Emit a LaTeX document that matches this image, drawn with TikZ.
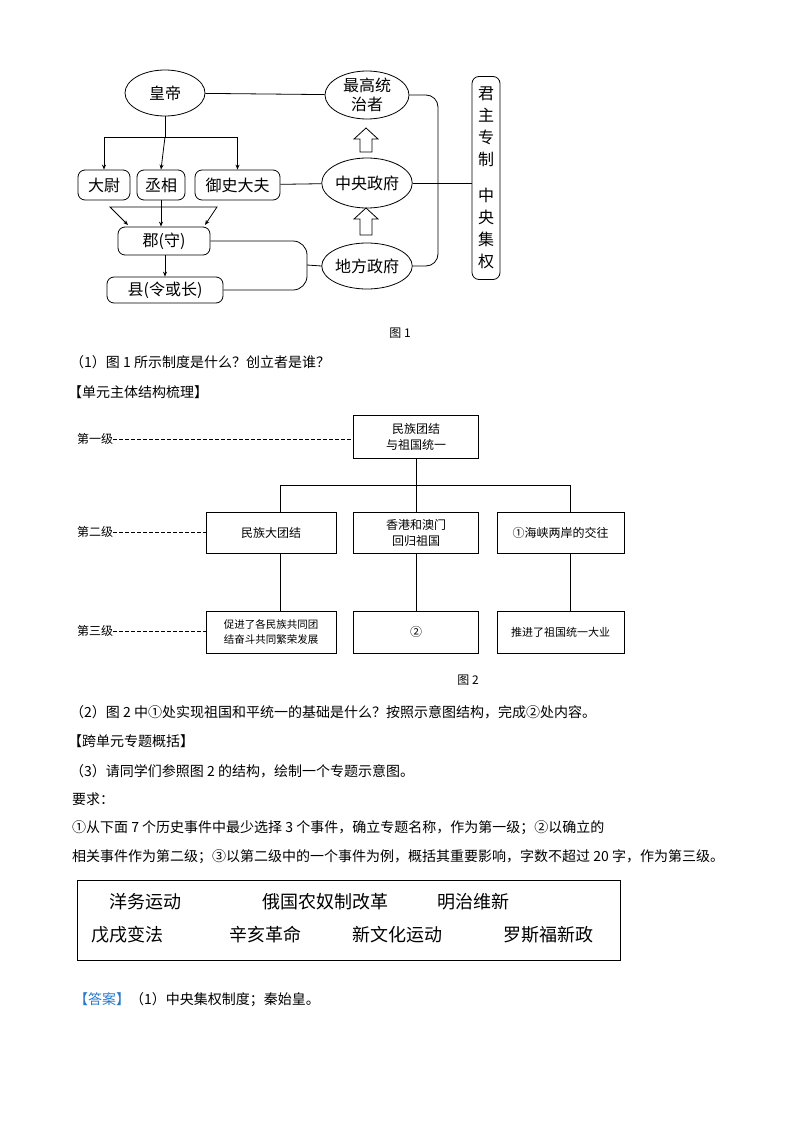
\documentclass[tikz,border=0pt]{standalone}
\usepackage{fontspec}
\setmainfont{Noto Sans CJK SC}
\usetikzlibrary{shapes.geometric,arrows.meta}
\begin{document}
\begin{tikzpicture}[x=1pt,y=-1pt,
  ell/.style={draw,thick,ellipse,inner sep=0pt,font=\fontsize{16}{19}\selectfont,align=center},
  rbox/.style={draw,thick,rounded corners=7pt,inner sep=0pt,font=\fontsize{16}{19}\selectfont},
  sbox/.style={draw,thick,inner sep=0pt,font=\fontsize{12}{16}\selectfont,align=center},
  lvl/.style={font=\fontsize{12}{14}\selectfont,inner sep=0pt},
  txt/.style={anchor=west,inner sep=0pt,font=\fontsize{14}{16}\selectfont},
  arr/.style={-{Stealth[length=5pt,width=4pt]},thick},
  dsh/.style={dashed,thick,dash pattern=on 4pt off 2pt}]
\useasboundingbox (0,0) rectangle (800,1132);
% ---------- Figure 1
\node[ell,minimum width=80pt,minimum height=46pt] (hd) at (165,93) {皇帝};
\node[ell,minimum width=84pt,minimum height=48pt] (zg) at (367,95) {最高统\\治者};
\node[ell,minimum width=84pt,minimum height=50pt] (zy) at (367,183) {中央政府};
\node[ell,minimum width=84pt,minimum height=46pt] (df) at (367,266) {地方政府};
\node[rbox,minimum width=28pt,minimum height=203pt,align=center,font=\fontsize{16}{22}\selectfont] (jz) at (486,178) {君\\主\\专\\制\\[14pt]中\\央\\集\\权};
\node[rbox,minimum width=52pt,minimum height=30pt] (dw) at (104,185) {大尉};
\node[rbox,minimum width=48pt,minimum height=30pt] (cx) at (161,185) {丞相};
\node[rbox,minimum width=85pt,minimum height=30pt] (ys) at (237.5,185) {御史大夫};
\node[rbox,minimum width=92pt,minimum height=28pt] (jun) at (164,241) {郡(守)};
\node[rbox,minimum width=116pt,minimum height=26pt] (xian) at (165,290) {县(令或长)};
\draw[thick] (hd) -- (zg);
\draw[thick] (ys) -- (zy);
\draw[thick] (zy.east) -- (jz.west |- zy.east);
\draw[thick,rounded corners=12pt] (zg.east) -- (438,95) -- (438,266) -- (df.east);
\coordinate (br) at (165,137);
\draw[thick] (hd.south) -- (br);
\draw[arr] (br) -| (dw.north);
\draw[arr] (br) -- (cx.north);
\draw[arr] (br) -| (ys.north);
\draw[arr] (cx.south) -- (cx.south |- jun.north);
\draw[{Stealth[length=5pt,width=4pt]}-{Stealth[length=5pt,width=4pt]},thick] (128,225) -- (110,207) -- (217,207) -- (205,225);
\draw[arr] (jun.south -| xian.north) -- (xian.north);
\draw[thick,rounded corners=14pt] (jun.east) -- (307,241) -- (307,290) -- (xian.east);
\draw[thick] (307,265) -- (df.west);
\foreach \t/\b in {128/152,208/235}{
  \draw[thick] (360,\b) -- (360,\t+11) -- (354,\t+11) -- (366,\t) -- (378,\t+11) -- (372,\t+11) -- (372,\b) -- cycle;}
\node[inner sep=0pt,font=\fontsize{12}{14}\selectfont] (c1) at (400,333) {图 1};
\node[txt] (q1) at (70,362) {（1）图 1 所示制度是什么？创立者是谁？};
\node[txt] (h1) at (68,392) {【单元主体结构梳理】};
% ---------- Figure 2
\node[sbox,minimum width=125pt,minimum height=43pt] (t) at (416,437) {民族团结\\与祖国统一};
\node[sbox,minimum width=130pt,minimum height=41pt] (m1) at (271,533) {民族大团结};
\node[sbox,minimum width=125pt,minimum height=41pt] (m2) at (416,533) {香港和澳门\\回归祖国};
\node[sbox,minimum width=127pt,minimum height=41pt] (m3) at (560.5,533) {①海峡两岸的交往};
\node[sbox,minimum width=130pt,minimum height=42pt,font=\fontsize{10.5}{15}\selectfont] (b1) at (271,632) {促进了各民族共同团\\结奋斗共同繁荣发展};
\node[sbox,minimum width=125pt,minimum height=42pt] (b2) at (416,632) {②};
\node[sbox,minimum width=127pt,minimum height=42pt,font=\fontsize{11}{14}\selectfont] (b3) at (560.5,632) {推进了祖国统一大业};
\node[lvl,anchor=west] (l1) at (77,439) {第一级};
\node[lvl,anchor=west] (l2) at (77,532) {第二级};
\node[lvl,anchor=west] (l3) at (77,631) {第三级};
\draw[dsh] (l1.east) -- (t.west |- l1.east);
\draw[dsh] (l2.east) -- (m1.west |- l2.east);
\draw[dsh] (l3.east) -- (b1.west |- l3.east);
\draw[thick] (t.south) -- (416,485);
\draw[thick] (280,512.5) -- (280,485) -- (570,485) -- (570,512.5);
\draw[thick] (416,485) -- (m2.north);
\draw[thick] (280,553.5) -- (280,611);
\draw[thick] (m2.south) -- (b2.north);
\draw[thick] (570,553.5) -- (570,611);
\node[inner sep=0pt,font=\fontsize{12}{14}\selectfont] (c2) at (468,680) {图 2};
% ---------- Text
\node[txt] (q2) at (70,712) {（2）图 2 中①处实现祖国和平统一的基础是什么？按照示意图结构，完成②处内容。};
\node[txt] (h2) at (68,741) {【跨单元专题概括】};
\node[txt] (q3) at (70,771) {（3）请同学们参照图 2 的结构，绘制一个专题示意图。};
\node[txt] (r0) at (72,799) {要求：};
\node[txt] (r1) at (72,828) {①从下面 7 个历史事件中最少选择 3 个事件，确立专题名称，作为第一级；②以确立的};
\node[txt] (r2) at (72,857) {相关事件作为第二级；③以第二级中的一个事件为例，概括其重要影响，字数不超过 20 字，作为第三级。};
\draw[thick] (77,880) rectangle (620,960);
\begin{scope}[every node/.style={inner sep=0pt,font=\fontsize{18}{20}\selectfont}]
\node (e1) at (145,902) {洋务运动};
\node (e2) at (325,902) {俄国农奴制改革};
\node (e3) at (473,902) {明治维新};
\node (e4) at (127,935) {戊戌变法};
\node (e5) at (265,935) {辛亥革命};
\node (e6) at (397,935) {新文化运动};
\node (e7) at (548,935) {罗斯福新政};
\end{scope}
\node[txt] (ans) at (74,1000) {\textcolor[RGB]{40,120,200}{【答案】}（1）中央集权制度；秦始皇。};
\end{tikzpicture}
\end{document}
